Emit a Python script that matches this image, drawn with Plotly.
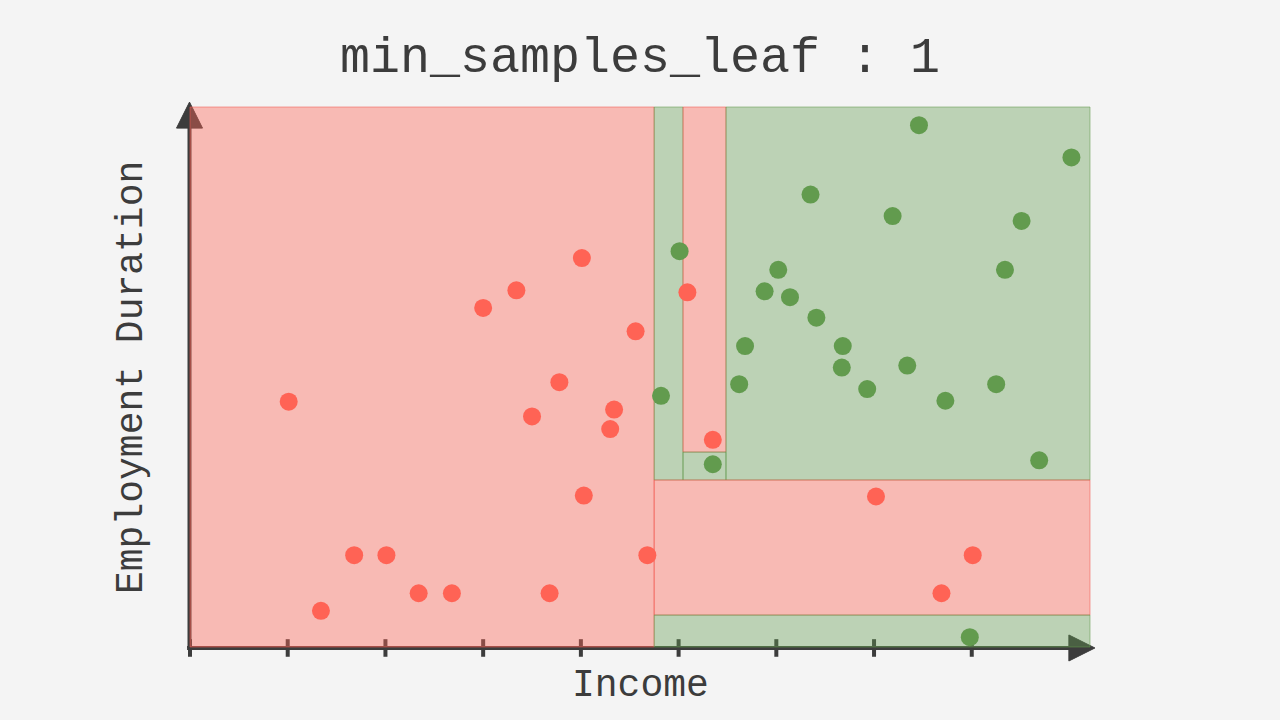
import plotly.graph_objects as go

# ---------------- data ----------------
red_x = [1.01, 1.34, 1.68, 2.01, 2.34, 2.68, 3.00, 3.34, 3.50, 3.68, 3.78, 4.01, 4.03,
         4.30, 4.34, 4.56, 4.68, 5.09, 5.35, 7.02, 7.69, 8.01]
red_y = [2.51, 0.37, 0.94, 0.94, 0.55, 0.55, 3.47, 3.65, 2.36, 0.55, 2.71, 3.98, 1.55,
         2.23, 2.43, 3.23, 0.94, 3.63, 2.12, 1.54, 0.55, 0.94]

green_x = [4.82, 5.01, 5.35, 5.62, 5.68, 5.88, 6.02, 6.14, 6.35, 6.41, 6.67, 6.68, 6.93,
           7.19, 7.34, 7.46, 7.73, 7.98, 8.25, 8.34, 8.51, 8.69, 9.02]
green_y = [2.57, 4.05, 1.87, 2.69, 3.08, 3.64, 3.86, 3.58, 4.63, 3.37, 2.86, 3.08, 2.64,
           4.41, 2.88, 5.34, 2.52, 0.10, 2.69, 3.86, 4.36, 1.91, 5.01]

# decision-tree leaf regions (x0, x1, y0, y1, class)
X_MAX = 9.21
Y_MAX = 5.526
region_x0 = [0.0, 4.75, 5.045, 5.045, 5.485, 4.75, 4.75]
region_x1 = [4.75, 5.045, 5.485, 5.485, X_MAX, X_MAX, X_MAX]
region_y0 = [0.0, 1.709, 1.995, 1.709, 1.709, 0.327, 0.0]
region_y1 = [Y_MAX, Y_MAX, Y_MAX, 1.995, Y_MAX, 1.709, 0.327]
region_cls = ["red", "green", "red", "green", "green", "red", "green"]

x_ticks = [0, 1, 2, 3, 4, 5, 6, 7, 8]

title_text = "min_samples_leaf : 1"
x_label = "Income"
y_label = "Employment Duration"

# ---------------- styles ----------------
BG = "#F4F4F4"
AX = "#3C3C3C"
RED = "rgb(255,99,85)"
GREEN = "rgb(98,155,78)"
FILL = {"red": "rgba(255,99,85,0.40)", "green": "rgba(98,155,78,0.38)"}
EDGE = {"red": "rgba(240,90,80,0.55)", "green": "rgba(98,155,78,0.55)"}
FONT = "Liberation Mono, DejaVu Sans Mono, monospace"

# pixel mapping: x px = 190 + 97.72*x ; y px = 647 - 97.72*y
U = 97.72
XR = [-190 / U, (1280 - 190) / U]
YR = [-(720 - 647) / U, 647 / U]

fig = go.Figure()

shapes = []
# axes lines
ah = 26 / U   # arrow head length
aw = 13 / U   # arrow half width
x_tip = X_MAX + 0.05
y_tip = Y_MAX + 0.05
shapes.append(dict(type="line", x0=-0.03, y0=-0.01, x1=x_tip - ah * 0.5, y1=-0.01,
                   line=dict(color=AX, width=4), layer="below"))
shapes.append(dict(type="line", x0=-0.005, y0=-0.01, x1=-0.005, y1=y_tip - ah * 0.5,
                   line=dict(color=AX, width=4), layer="below"))
# arrow heads
shapes.append(dict(type="path",
                   path=f"M {x_tip - ah} {-0.01 + aw} L {x_tip} {-0.01} L {x_tip - ah} {-0.01 - aw} Z",
                   fillcolor=AX, line=dict(color=AX, width=1), layer="below"))
shapes.append(dict(type="path",
                   path=f"M {-0.005 - aw} {y_tip - ah} L {-0.005} {y_tip} L {-0.005 + aw} {y_tip - ah} Z",
                   fillcolor=AX, line=dict(color=AX, width=1), layer="below"))
# ticks
for t in x_ticks:
    shapes.append(dict(type="line", x0=t, x1=t, y0=0.08, y1=-0.10,
                       line=dict(color=AX, width=4), layer="below"))
# regions
for x0, x1, y0, y1, c in zip(region_x0, region_x1, region_y0, region_y1, region_cls):
    shapes.append(dict(type="rect", x0=x0, x1=x1, y0=y0, y1=y1,
                       fillcolor=FILL[c], line=dict(color=EDGE[c], width=1), layer="below"))

fig.add_trace(go.Scatter(x=red_x, y=red_y, mode="markers",
                         marker=dict(color=RED, size=18, line=dict(width=0)),
                         hoverinfo="skip", showlegend=False))
fig.add_trace(go.Scatter(x=green_x, y=green_y, mode="markers",
                         marker=dict(color=GREEN, size=18, line=dict(width=0)),
                         hoverinfo="skip", showlegend=False))

annotations = [
    dict(text=title_text, x=0.5, y=1 - 58 / 720, xref="paper", yref="paper",
         xanchor="center", yanchor="middle", showarrow=False,
         font=dict(family=FONT, size=50, color="#3C3C3C")),
    dict(text=x_label, x=640 / 1280, y=1 - 685 / 720, xref="paper", yref="paper",
         xanchor="center", yanchor="middle", showarrow=False,
         font=dict(family=FONT, size=38, color="#3C3C3C")),
    dict(text=y_label, x=131 / 1280, y=1 - 378 / 720, xref="paper", yref="paper",
         xanchor="center", yanchor="middle", showarrow=False, textangle=-90,
         font=dict(family=FONT, size=38, color="#3C3C3C")),
]

fig.update_layout(
    width=1280, height=720,
    margin=dict(l=0, r=0, t=0, b=0),
    paper_bgcolor=BG, plot_bgcolor=BG,
    xaxis=dict(range=XR, visible=False, fixedrange=True),
    yaxis=dict(range=YR, visible=False, fixedrange=True),
    shapes=shapes, annotations=annotations,
)

fig.write_html("out.html", config={"displayModeBar": False})
